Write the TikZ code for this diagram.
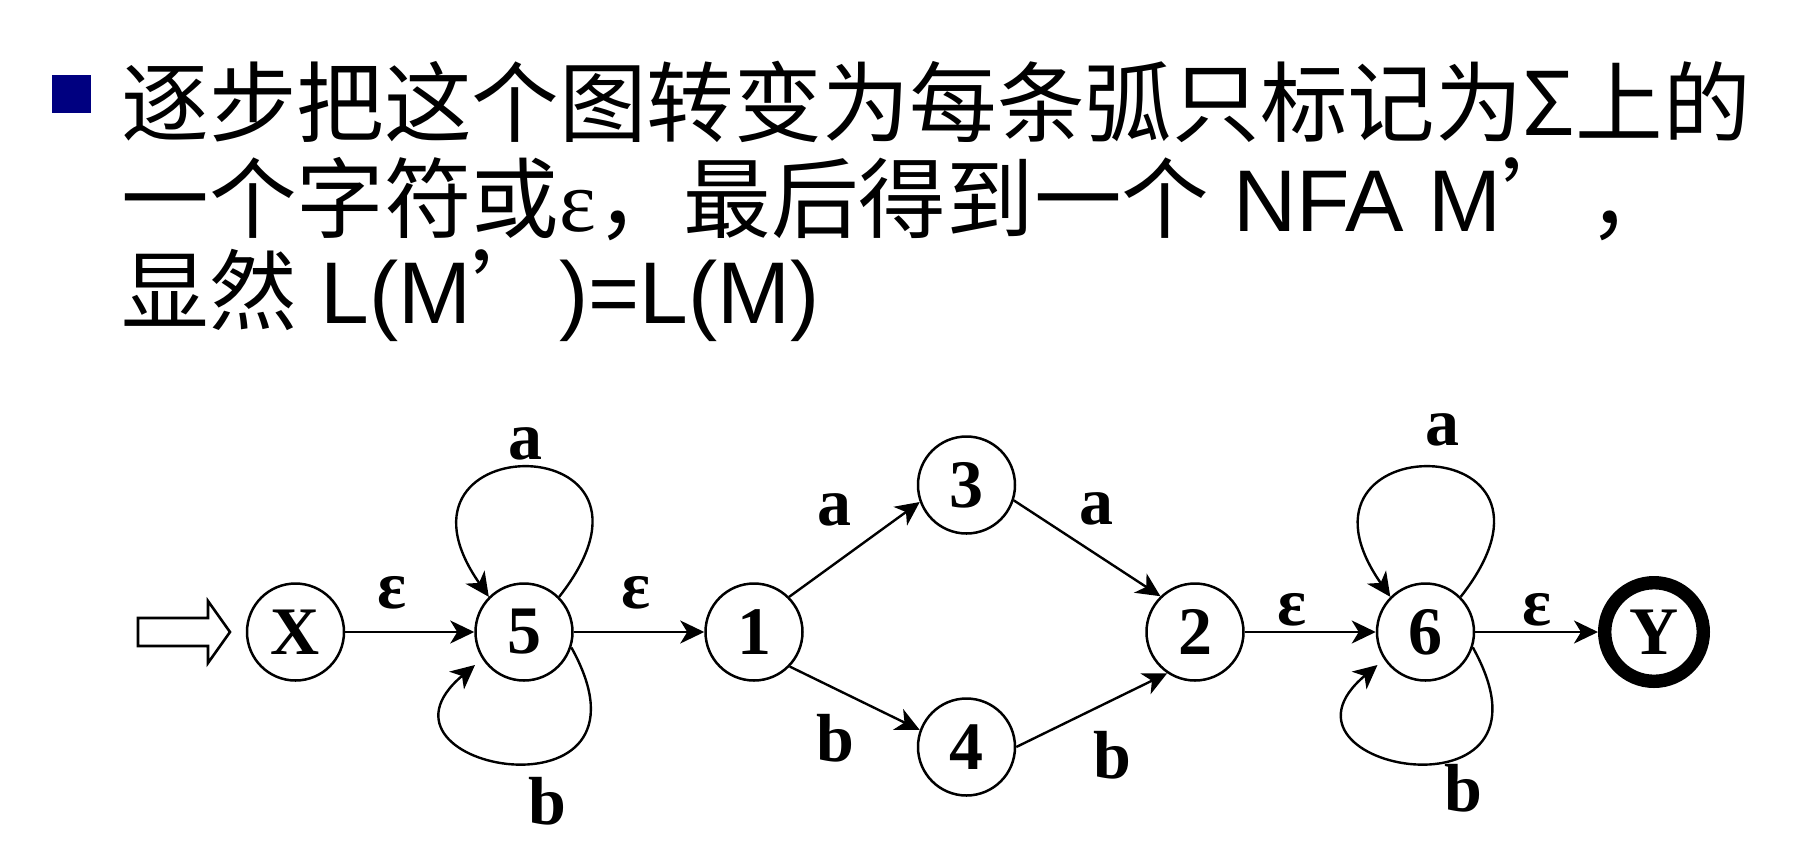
\documentclass[tikz,border=0pt]{standalone}
\usepackage{fontspec}
\setmainfont{Liberation Sans}
\newfontfamily\cjk{Noto Sans CJK SC}
\newfontfamily\tms{Liberation Serif}
\usetikzlibrary{arrows.meta}
\definecolor{bulletblue}{RGB}{0,0,128}
\tikzset{
  stnode/.style={draw, circle, line width=1.25pt, minimum size=48.5pt, inner sep=0pt,
    font=\tms\bfseries\fontsize{34}{34}\selectfont},
  accept/.style={stnode, line width=6.7pt, minimum size=49.3pt},
  lbl/.style={inner sep=0pt, font=\tms\bfseries\fontsize{34}{34}\selectfont},
  trans/.style={-{Stealth[length=12pt,width=11.5pt,inset=3.5pt]}, line width=1.2pt},
  txtline/.style={anchor=base west, inner sep=0pt, font=\fontsize{43.8}{43.8}\selectfont},
}
\begin{document}
\begin{tikzpicture}[x=0.5pt, y=-0.5pt]
      \useasboundingbox (0,0) rectangle (1796,848);

      % heading
      \fill[bulletblue] (52,75) rectangle (91,113);
      \node[txtline] (t1) at (121,135) {\cjk 逐步把这个图转变为每条弧只标记为Σ上的};
      \node[txtline] (t2) at (121,231) {{\cjk 一个字符或}{\tms ε}{\cjk ，最后得到一个} NFA M{\cjk\makebox[1em][l]{’}，}};
      \node[txtline] (t3) at (121,323) {{\cjk 显然} L(M{\cjk\makebox[1em][l]{’}})=L(M)};

      % states
      \node[stnode] (nX) at (295.5,632) {X};
      \node[stnode] (n5) at (524,632) {5};
      \node[stnode] (n1) at (754,632) {1};
      \node[stnode] (n3) at (966.5,485) {3};
      \node[stnode] (n4) at (966.5,747) {4};
      \node[stnode] (n2) at (1195,632) {2};
      \node[stnode] (n6) at (1425.5,632) {6};
      \node[accept] (nY) at (1654,632) {Y};

      % start arrow
      \draw[line width=1.3pt] (138,618) -- (208,618) -- (208,601) -- (230,632)
        -- (208,663) -- (208,646) -- (138,646) -- cycle;

      \draw[trans] (nX) -- node[lbl, above=11pt, pos=0.36] (eX5) {ε} (n5);
      \draw[trans] (n5) -- node[lbl, above=11pt, pos=0.48] (e51) {ε} (n1);
      \draw[trans] (n1.45) -- node[lbl, above=18pt, pos=0.35] (e13) {a} (n3.200);
      \draw[trans] (n3.-18) -- node[lbl, above=14pt, pos=0.565] (e32) {a} (n2.134);
      \draw[trans] (n1.-44) -- node[lbl, below=12pt, pos=0.35] (e14) {b} (n4.160);
      \draw[trans] (n4.0) -- node[lbl, below=15pt, pos=0.64] (e42) {b} (n2.-124);
      \draw[trans] (n2) -- node[lbl, above=2.5pt, pos=0.36] (e26) {ε} (n6);
      \draw[trans] (n6) -- node[lbl, above=2.5pt, pos=0.5] (e6Y) {ε} (nY);

      % loops
      \draw[trans] (n5.45) .. controls +(135,-172) and +(-120,-172) .. (n5.135)
        node[lbl, pos=0.5, above=3pt, xshift=-2pt] (l5a) {a};
      \draw[trans] (n5.-18) .. controls +(100,180) and +(-125,105) .. ([shift={(-49,33)}]n5.center)
        node[lbl, pos=0.5, below=6.5pt, xshift=17pt] (l5b) {b};
      \draw[trans] (n6.45) .. controls +(135,-172) and +(-120,-172) .. (n6.135)
        node[lbl, pos=0.5, above=10pt, xshift=5.5pt] (l6a) {a};
      \draw[trans] (n6.-18) .. controls +(100,180) and +(-125,105) .. ([shift={(-48,33)}]n6.center)
        node[lbl, pos=0.5, below=0pt, xshift=24pt] (l6b) {b};
\end{tikzpicture}
\end{document}
